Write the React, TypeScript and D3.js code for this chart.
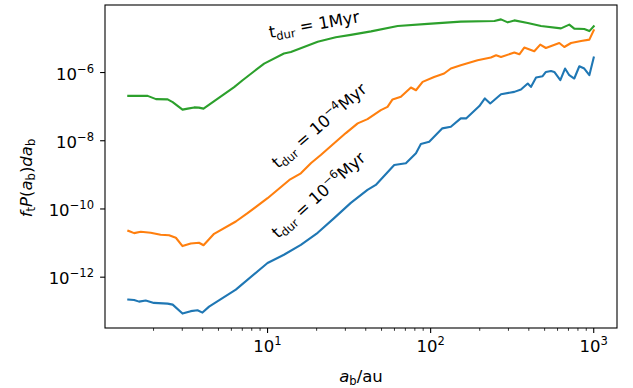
import React from "react";
import * as d3 from "d3";

const xGreen = [1.40, 1.84, 2.07, 2.44, 2.62, 3.01, 3.24, 3.55, 3.79, 4.05, 6.24, 7.03, 8.28, 9.53, 12.6, 13.9, 20.3, 26.2, 32.4, 43.1, 62.8, 95.9, 153, 246, 270, 297, 326, 394, 475, 630, 708, 760, 875, 940, 1000];
const yGreen = [2.07e-7, 2.07e-7, 1.66e-7, 1.63e-7, 1.36e-7, 8.17e-8, 8.75e-8, 9.49e-8, 9.35e-8, 8.75e-8, 3.72e-7, 5.95e-7, 1.09e-6, 1.83e-6, 3.6e-6, 4.0e-6, 7.96e-6, 1.08e-5, 1.27e-5, 1.61e-5, 2.31e-5, 2.67e-5, 3.1e-5, 3.23e-5, 3.62e-5, 2.96e-5, 3.38e-5, 2.82e-5, 2.31e-5, 1.97e-5, 2.54e-5, 1.94e-5, 1.88e-5, 1.64e-5, 2.26e-5];

const xOrange = [1.40, 1.52, 1.67, 1.92, 2.21, 2.49, 2.74, 3.01, 3.38, 3.80, 4.05, 4.70, 6.39, 7.54, 10.0, 13.6, 16.0, 18.5, 21.2, 25.6, 30.2, 35.7, 41.0, 49.5, 54.4, 58.4, 65.7, 75.7, 81.3, 89.3, 105, 121, 133, 153, 194, 234, 252, 270, 326, 350, 375, 432, 470, 509, 615, 660, 726, 836, 940, 1000];
const yOrange = [2.29e-11, 1.96e-11, 2.14e-11, 2.0e-11, 1.75e-11, 1.69e-11, 1.43e-11, 8.17e-12, 9.73e-12, 1.02e-11, 8.63e-12, 1.87e-11, 4.29e-11, 7.54e-11, 2.07e-10, 7.1e-10, 1.11e-9, 2.23e-9, 3.82e-9, 8.4e-9, 1.68e-8, 3.23e-8, 4.31e-8, 7.91e-8, 9.86e-8, 1.63e-7, 1.94e-7, 3.64e-7, 3.03e-7, 5.31e-7, 7.43e-7, 9.35e-7, 1.31e-6, 1.63e-6, 2.29e-6, 2.75e-6, 3.21e-6, 2.86e-6, 3.85e-6, 3.43e-6, 5.38e-6, 4.2e-6, 6.59e-6, 5.24e-6, 7.33e-6, 5.61e-6, 7.33e-6, 8.39e-6, 9.23e-6, 1.73e-5];

const xBlue = [1.40, 1.52, 1.63, 1.79, 2.01, 2.44, 2.62, 3.01, 3.38, 3.72, 3.99, 4.38, 6.39, 10.0, 12.6, 16.0, 20.3, 25.6, 32.4, 41.0, 46.1, 59.8, 70.5, 81.3, 87.1, 98.0, 118, 133, 153, 165, 199, 215, 232, 270, 326, 358, 394, 412, 443, 486, 509, 547, 573, 624, 667, 708, 760, 816, 875, 940, 1000];
const yBlue = [2.2e-13, 2.15e-13, 1.92e-13, 2.06e-13, 1.76e-13, 1.68e-13, 1.57e-13, 8.57e-14, 1.01e-13, 1.07e-13, 9.16e-14, 1.37e-13, 4.31e-13, 2.6e-12, 4.55e-12, 8.91e-12, 2.0e-11, 5.38e-11, 1.51e-10, 3.61e-10, 5.07e-10, 1.95e-9, 2.18e-9, 4.29e-9, 8.02e-9, 9.35e-9, 2.31e-8, 2.57e-8, 4.52e-8, 4.52e-8, 1.04e-7, 1.74e-7, 1.24e-7, 2.32e-7, 2.71e-7, 3.18e-7, 4.76e-7, 3.79e-7, 7.15e-7, 7.8e-7, 1.04e-6, 1.11e-6, 1.04e-6, 5.96e-7, 1.31e-6, 8.34e-7, 6.68e-7, 1.53e-6, 1.31e-6, 8.34e-7, 2.75e-6];

const xMajorTicks = [10, 100, 1000];
const xMajorExp = ["1", "2", "3"];
const yMajorTicks = [1e-12, 1e-10, 1e-8, 1e-6];
const yMajorExp = ["−12", "−10", "−8", "−6"];

const W = 633;
const H = 388;
const L = 105, R = 617, T = 5, B = 328;
const FS = 16.5;
const FONT = "DejaVu Sans";

type Part = { t: string; s?: "sub" | "sup"; i?: boolean };

function MathText({ parts, fs, ...rest }: { parts: Part[]; fs: number; [k: string]: any }) {
  let cur = 0;
  return (
    <text fontFamily={FONT} fontSize={fs} fill="#000" {...rest}>
      {parts.map((p, k) => {
        const target = p.s === "sub" ? 0.2 * fs : p.s === "sup" ? -0.42 * fs : 0;
        const dy = target - cur;
        cur = target;
        return (
          <tspan
            key={k}
            dy={dy}
            fontSize={p.s ? fs * 0.7 : fs}
            fontStyle={p.i ? "italic" : "normal"}
          >
            {p.t}
          </tspan>
        );
      })}
    </text>
  );
}

export default function App() {
  const x = d3.scaleLog().domain([Math.pow(10, 0.0033), Math.pow(10, 3.1427)]).range([L, R]);
  const y = d3.scaleLog().domain([Math.pow(10, -13.49), Math.pow(10, -4.02)]).range([B, T]);

  const line = d3
    .line<[number, number]>()
    .x((d) => x(d[0]))
    .y((d) => y(d[1]));

  const series = [
    { xs: xBlue, ys: yBlue, c: "#1f77b4" },
    { xs: xOrange, ys: yOrange, c: "#ff7f0e" },
    { xs: xGreen, ys: yGreen, c: "#2ca02c" },
  ];

  const minor: number[] = [];
  for (const dec of [1, 10, 100]) {
    for (let m = 2; m <= 9; m++) {
      const v = dec * m;
      if (v >= x.domain()[0] && v <= x.domain()[1]) minor.push(v);
    }
  }

  return (
    <svg width={W} height={H} style={{ position: "absolute", left: 0, top: 0, background: "#fff" }}>
      <rect x={0} y={0} width={W} height={H} fill="#fff" />
      {series.map((s, k) => (
        <path
          key={k}
          d={line(s.xs.map((v, j) => [v, s.ys[j]] as [number, number])) || ""}
          fill="none"
          stroke={s.c}
          strokeWidth={2.1}
          strokeLinejoin="round"
          strokeLinecap="square"
        />
      ))}

      {/* annotations */}
      <MathText
        fs={FS}
        transform="translate(270,38) rotate(-10)"
        parts={[{ t: "t" }, { t: "dur", s: "sub" }, { t: " = 1Myr" }]}
      />
      <MathText
        fs={FS}
        transform="translate(278,169) rotate(-41)"
        parts={[{ t: "t" }, { t: "dur", s: "sub" }, { t: " = 10" }, { t: "−4", s: "sup" }, { t: "Myr" }]}
      />
      <MathText
        fs={FS}
        transform="translate(278,239) rotate(-42)"
        parts={[{ t: "t" }, { t: "dur", s: "sub" }, { t: " = 10" }, { t: "−6", s: "sup" }, { t: "Myr" }]}
      />

      {/* frame */}
      <rect x={L} y={T} width={R - L} height={B - T} fill="none" stroke="#000" strokeWidth={1.1} />

      {/* x ticks */}
      {minor.map((v, k) => (
        <line key={"mi" + k} x1={x(v)} x2={x(v)} y1={B} y2={B + 2.8} stroke="#000" strokeWidth={0.8} />
      ))}
      {xMajorTicks.map((v, k) => (
        <g key={"xm" + k}>
          <line x1={x(v)} x2={x(v)} y1={B} y2={B + 4.9} stroke="#000" strokeWidth={1.1} />
          <MathText
            fs={FS}
            x={x(v)}
            y={352}
            textAnchor="middle"
            parts={[{ t: "10" }, { t: xMajorExp[k], s: "sup" }]}
          />
        </g>
      ))}

      {/* y ticks */}
      {yMajorTicks.map((v, k) => (
        <g key={"ym" + k}>
          <line x1={L - 4.9} x2={L} y1={y(v)} y2={y(v)} stroke="#000" strokeWidth={1.1} />
          <MathText
            fs={FS}
            x={94}
            y={y(v) + 7}
            textAnchor="end"
            parts={[{ t: "10" }, { t: yMajorExp[k], s: "sup" }]}
          />
        </g>
      ))}

      {/* axis labels */}
      <MathText
        fs={FS}
        x={361}
        y={382}
        textAnchor="middle"
        parts={[{ t: "a", i: true }, { t: "b", s: "sub" }, { t: "/au" }]}
      />
      <MathText
        fs={FS}
        transform="translate(32,178) rotate(-90)"
        textAnchor="middle"
        parts={[
          { t: "f", i: true },
          { t: "t", s: "sub" },
          { t: "P", i: true },
          { t: "(" },
          { t: "a", i: true },
          { t: "b", s: "sub" },
          { t: ")" },
          { t: "da", i: true },
          { t: "b", s: "sub" },
        ]}
      />
    </svg>
  );
}
